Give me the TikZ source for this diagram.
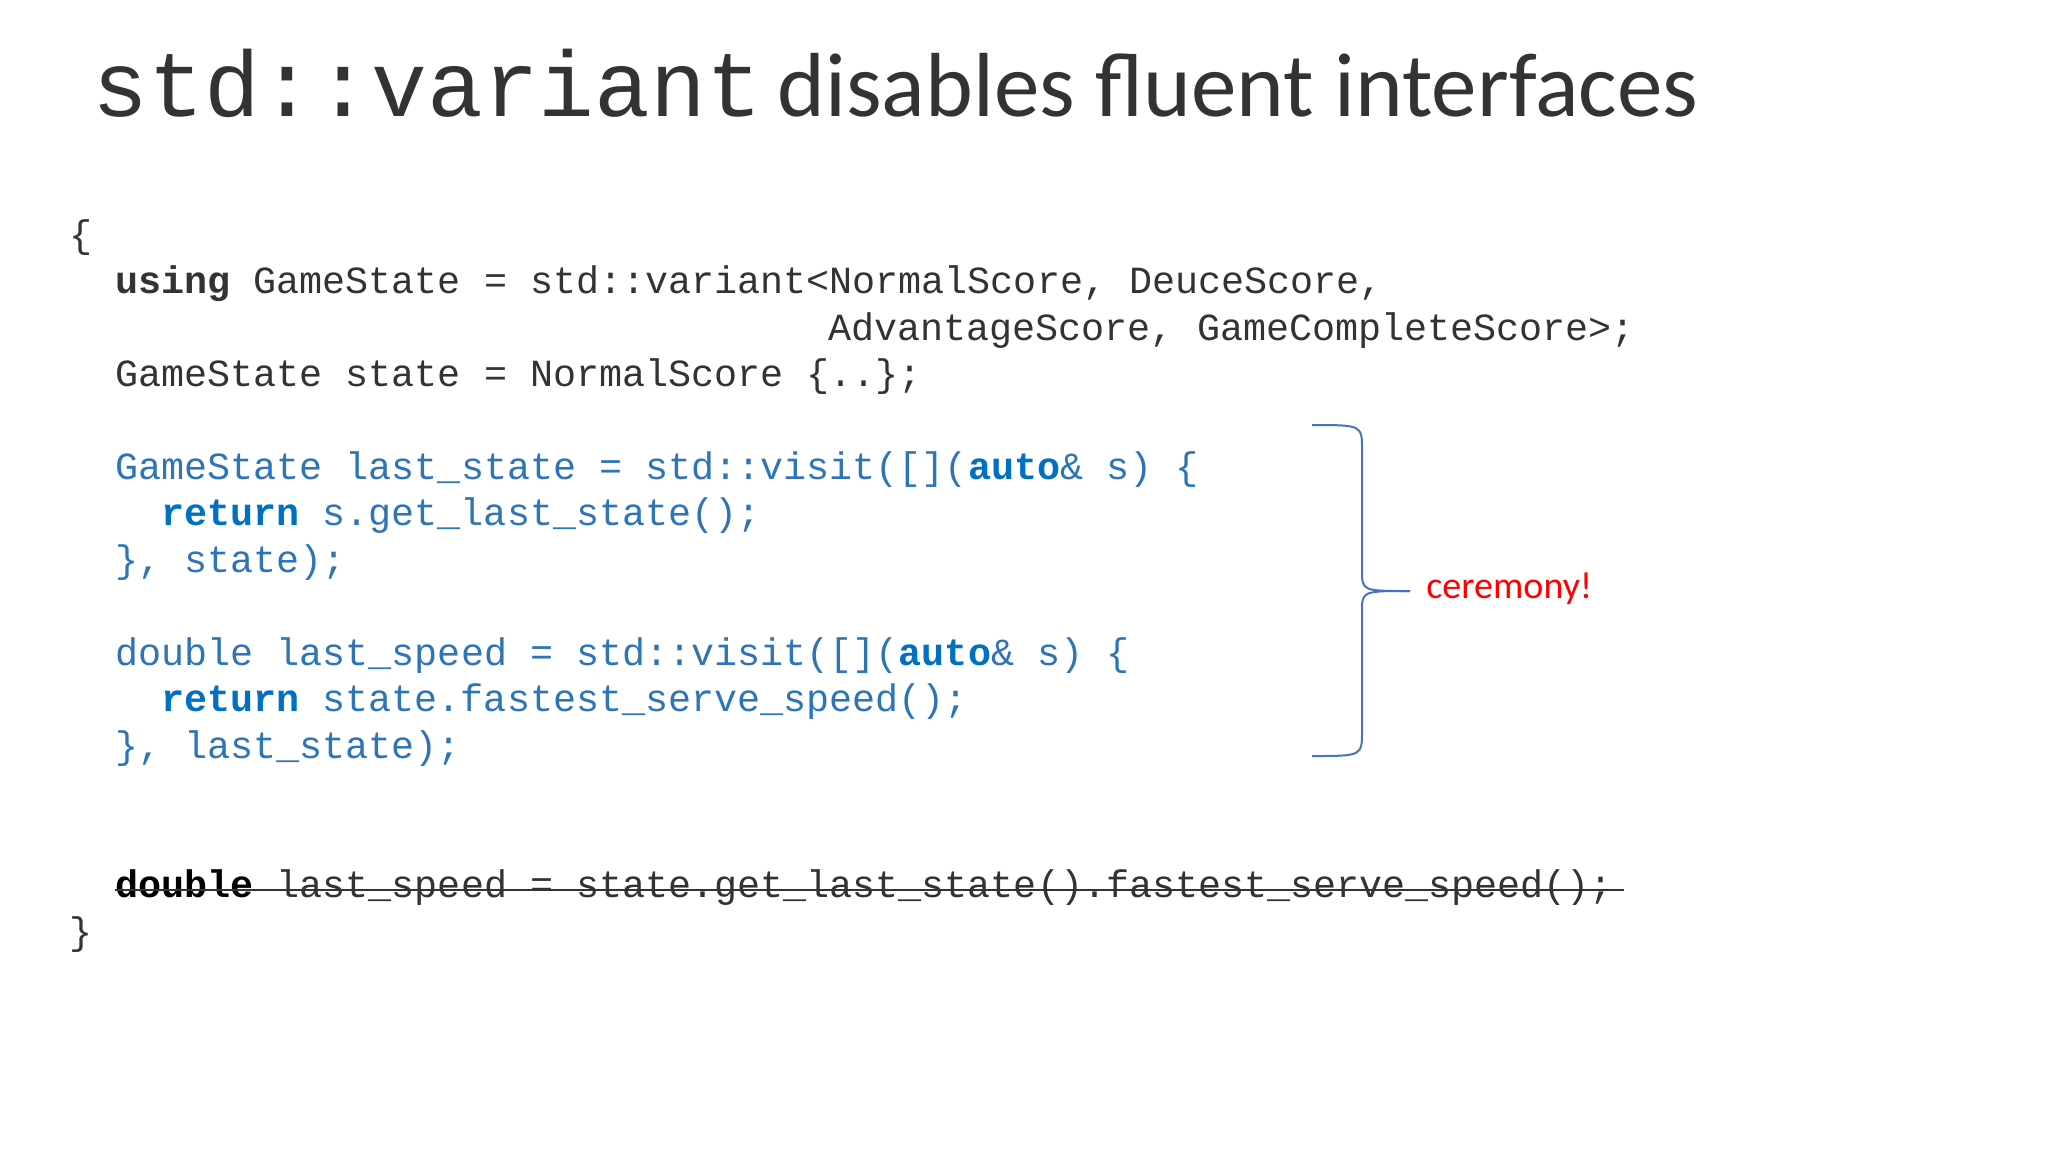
\documentclass[tikz,border=0pt]{standalone}
\usepackage{fontspec}
\setmainfont{Carlito}
\setmonofont{Liberation Mono}
\definecolor{codeblue}{HTML}{2E75B6}
\definecolor{kwblue}{HTML}{0070C0}
\definecolor{codegray}{HTML}{333333}
\definecolor{bracecol}{HTML}{4472C4}
\begin{document}
\begin{tikzpicture}[x=0.5pt,y=-0.5pt,
  code/.style={anchor=base west,inner sep=0pt,font=\fontsize{19.2pt}{23pt}\ttfamily},
  gray/.style={code,text=codegray},
  blue/.style={code,text=codeblue}]
\useasboundingbox (0,0) rectangle (2048,1152);
\node[anchor=base west,inner sep=0pt] (title) at (92,116)
  {\fontsize{46.5pt}{50pt}\ttfamily\color{black!80}std::variant\,\fontsize{45.5pt}{50pt}\rmfamily disables fluent interfaces};
\node[gray] (l1) at (69,247) {\{};
\node[gray] (l2) at (115,293) {\textbf{using} GameState = std::variant<NormalScore, DeuceScore,};
\node[gray] (l3) at (828,340) {AdvantageScore, GameCompleteScore>;};
\node[gray] (l4) at (115,386) {GameState state = NormalScore \{..\};};
\node[blue] (l5) at (115,479) {GameState last\_state = std::visit([](\textcolor{kwblue}{\textbf{auto}}\& s) \{};
\node[blue] (l6) at (161,525) {\textcolor{kwblue}{\textbf{return}} s.get\_last\_state();};
\node[blue] (l7) at (115,572) {\}, state);};
\node[blue] (l8) at (115,665) {double last\_speed = std::visit([](\textcolor{kwblue}{\textbf{auto}}\& s) \{};
\node[blue] (l9) at (161,711) {\textcolor{kwblue}{\textbf{return}} state.fastest\_serve\_speed();};
\node[blue] (l10) at (115,758) {\}, last\_state);};
\node[gray] (l11) at (115,897) {\textcolor{black}{\textbf{double}} last\_speed = state.get\_last\_state().fastest\_serve\_speed();};
\node[gray] (l12) at (69,944) {\}};
\draw[codegray,line width=1.2pt] (115,890) -- (1624,890);
\coordinate (bt) at (1312,425);
\coordinate (bb) at (1312,756);
\coordinate (tip) at (1410,591);
\draw[bracecol,line width=1pt] (bt) .. controls (1362,425) and (1362,425) .. (1362,450)
  -- (1362,570) .. controls (1362,591) .. (tip);
\draw[bracecol,line width=1pt] (bb) .. controls (1362,756) and (1362,756) .. (1362,731)
  -- (1362,612) .. controls (1362,591) .. (tip);
\node[anchor=west,inner sep=0pt,text=red,font=\fontsize{19pt}{22pt}\rmfamily] (cer) at (1426,589) {ceremony!};
\end{tikzpicture}
\end{document}
